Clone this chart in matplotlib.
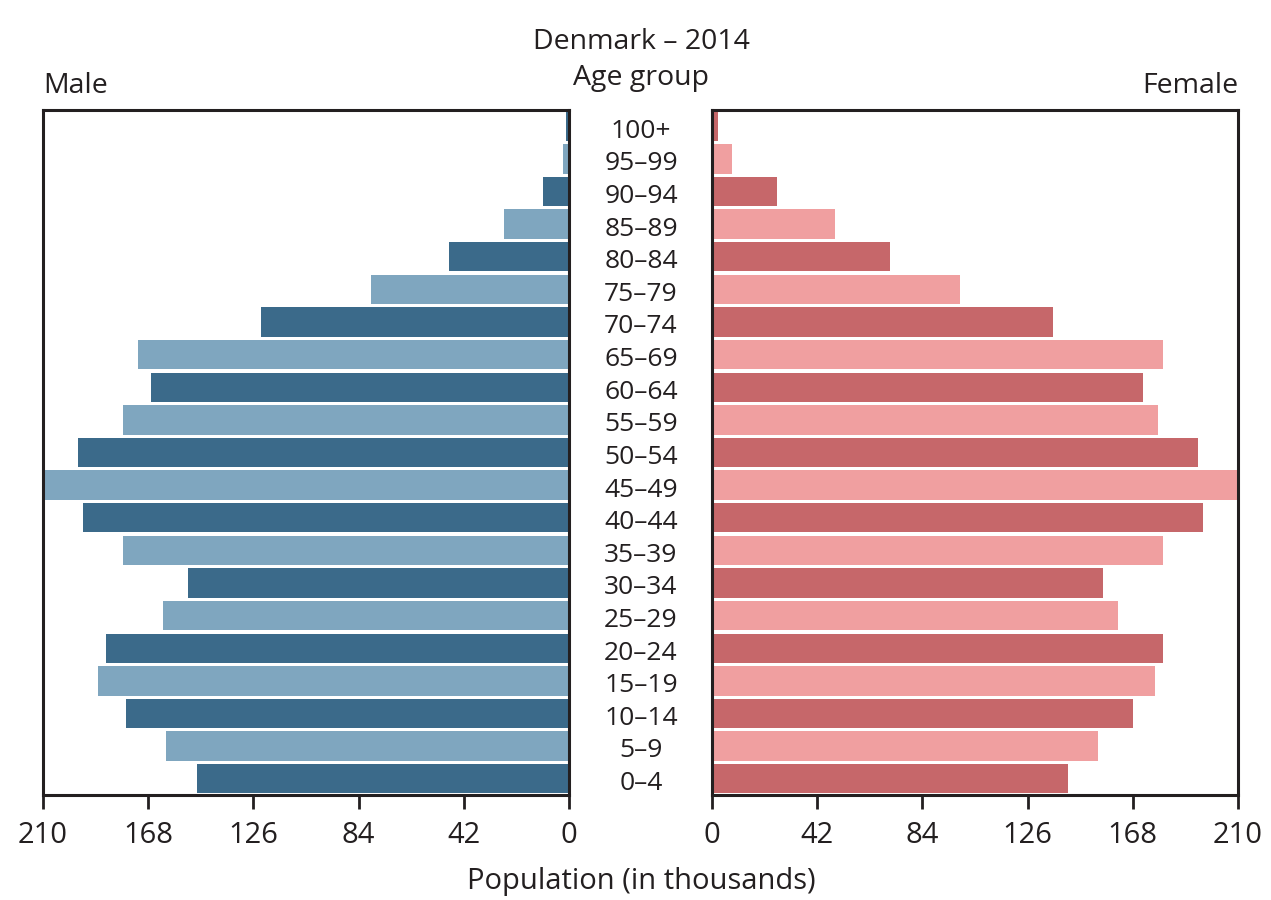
import numpy as np
import matplotlib.pyplot as plt
from matplotlib import transforms

plt.rcParams['font.family'] = ['Open Sans', 'DejaVu Sans']

# age groups, bottom to top
ages = ['0–4', '5–9', '10–14', '15–19', '20–24', '25–29', '30–34', '35–39',
        '40–44', '45–49', '50–54', '55–59', '60–64', '65–69', '70–74',
        '75–79', '80–84', '85–89', '90–94', '95–99', '100+']
# population in thousands
male = [148.5, 161, 177, 188, 185, 162, 152, 178, 194, 214, 196, 178,
        167, 172, 123, 79, 48, 26, 10.5, 2.4, 1.0]
female = [142, 154, 168, 177, 180, 162, 156, 180, 196, 214, 194, 178,
          172, 180, 136, 99, 71, 49, 26, 8, 2.4]

male_cols = ['#3b6a8a', '#7fa6bf']
female_cols = ['#c6676a', '#f09fa0']
ink = '#231f20'
ticks = [0, 42, 84, 126, 168, 210]

fig = plt.figure(figsize=(12.71, 9), dpi=100)
ax_m = fig.add_axes([43/1271, 1-795/900, 526/1271, 685/900])
ax_f = fig.add_axes([712/1271, 1-795/900, 526/1271, 685/900])

y = np.arange(len(ages))
mc = [male_cols[i % 2] for i in range(len(ages))]
fc = [female_cols[i % 2] for i in range(len(ages))]
ax_m.barh(y, male, height=0.9, color=mc)
ax_f.barh(y, female, height=0.9, color=fc)

for ax in (ax_m, ax_f):
    ax.set_ylim(-0.5, len(ages) - 0.5)
    ax.set_xlim(0, 210)
    ax.set_yticks([])
    ax.set_xticks(ticks)
    ax.set_xticklabels([str(t) for t in ticks])
    ax.tick_params(axis='x', direction='out', length=10, width=2,
                   color=ink, labelsize=21, labelcolor=ink, pad=9)
    for s in ax.spines.values():
        s.set_linewidth(2.2)
        s.set_color(ink)
ax_m.invert_xaxis()

# age labels between the two panels
tr = transforms.blended_transform_factory(fig.transFigure, ax_f.transData)
for yi, lab in zip(y, ages):
    fig.text(641/1271, yi - 0.15, lab, transform=tr, ha='center', va='center',
             fontsize=19, color=ink)

fig.text(641/1271, 1-42/900, 'Denmark – 2014', ha='center', va='center',
         fontsize=20.5, color=ink)
fig.text(641/1271, 1-78/900, 'Age group', ha='center', va='center',
         fontsize=20.5, color=ink)
fig.text(43/1271, 1-86/900, 'Male', ha='left', va='center',
         fontsize=20.5, color=ink)
fig.text(1238/1271, 1-86/900, 'Female', ha='right', va='center',
         fontsize=20.5, color=ink)
fig.text(641/1271, 1-881/900, 'Population (in thousands)', ha='center',
         va='center', fontsize=21, color=ink)

fig.savefig('out.png', dpi=100)
